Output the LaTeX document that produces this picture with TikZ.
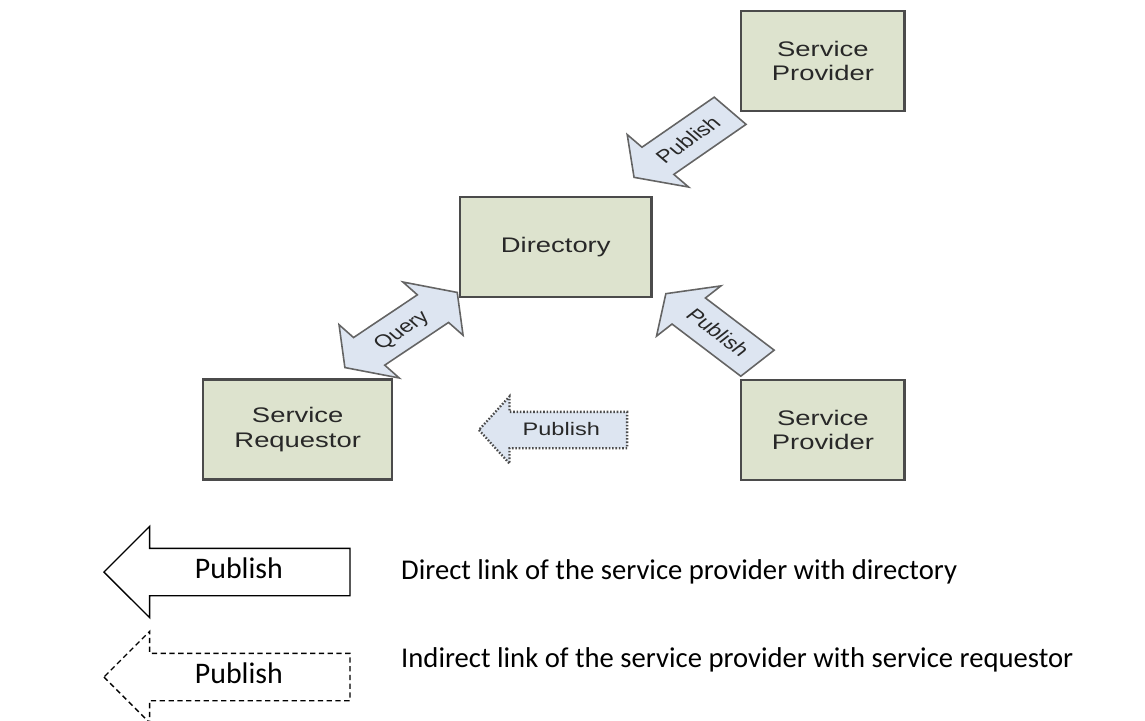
\documentclass[tikz,border=0pt]{standalone}
\usepackage{fontspec}
\usetikzlibrary{shapes.arrows}

\setmainfont{Liberation Sans}
\newfontfamily\legendfont{Carlito}

\definecolor{boxfill}{RGB}{221,227,206}
\definecolor{boxline}{RGB}{75,75,75}
\definecolor{boxtext}{RGB}{40,40,40}
\definecolor{arrowfill}{RGB}{221,229,241}
\definecolor{arrowline}{RGB}{100,100,100}

\tikzset{
    box/.style = {draw = boxline, fill = boxfill, line width = 1.3pt, minimum height = 2cm,
        align = center, text = boxtext, font = \fontsize{12}{14}\selectfont},
    blockarrow/.style = {single arrow, draw = arrowline, fill = arrowfill, line width = 0.9pt,
        inner sep = 0pt, minimum width = 0pt, single arrow tip angle = 110,
        single arrow head extend = 0.34cm, text height = 0.47cm, text depth = 0.23cm,
        text = boxtext, font = \fontsize{10.3}{12}\selectfont},
    legendarrow/.style = {single arrow, draw = black, fill = white, line width = 0.8pt,
        inner sep = 0pt, minimum width = 0pt, single arrow tip angle = 90,
        minimum height = 4.92cm, single arrow head extend = 0.44cm,
        text height = 0.59cm, text depth = 0.33cm, shape border rotate = 180,
        font = \legendfont\fontsize{17}{20}\selectfont}
}

\begin{document}
\begin{tikzpicture}
    \useasboundingbox (0,0) rectangle (22.9,14.4);

    % upper part is stretched sideways, as in the original figure
    \begin{scope}[xscale = 1.3, transform shape]
        % the four parties
        \node [box, minimum width = 2.51cm] (provtop) at (12.66,13.18) {Service\\Provider};
        \node [box, minimum width = 2.95cm] (dir) at (8.55,9.46) {Directory};
        \node [box, minimum width = 2.91cm] (req) at (4.58,5.81) {Service\\Requestor};
        \node [box, minimum width = 2.51cm] (provbot) at (12.66,5.80) {Service\\Provider};

        % block arrows between them
        \node [blockarrow, anchor = tip, rotate = 42, shape border rotate = 180,
            minimum height = 1.99cm] (pubtop) at (9.74,10.84) {Publish};
        \node [blockarrow, anchor = tip, rotate = -44.6, shape border rotate = 180,
            minimum height = 1.98cm] (pubbot) at (10.23,8.54) {Publish};
        \node [blockarrow, double arrow, rotate = 41, double arrow tip angle = 110,
            double arrow head extend = 0.34cm, minimum height = 2.29cm] (query) at (6.17,7.80) {Query};
        \node [blockarrow, anchor = tip, shape border rotate = 180, densely dotted,
            draw = boxline, line width = 1.3pt, minimum height = 2.28cm,
            single arrow head extend = 0.31cm, text height = 0.45cm,
            text depth = 0.23cm] (pubind) at (7.34,5.80) {Publish};
    \end{scope}

    % legend
    \node [legendarrow, anchor = tip] (legdirect) at (2.06,2.96) {Publish};
    \node [legendarrow, anchor = tip, densely dashed] (legindirect) at (2.06,0.86) {Publish};
    \node [anchor = west, font = \legendfont\fontsize{16.3}{19}\selectfont] (txtdirect)
        at (7.9,2.96) {Direct link of the service provider with directory};
    \node [anchor = west, font = \legendfont\fontsize{16.3}{19}\selectfont] (txtindirect)
        at (7.9,1.20) {Indirect link of the service provider with service requestor};
\end{tikzpicture}
\end{document}
